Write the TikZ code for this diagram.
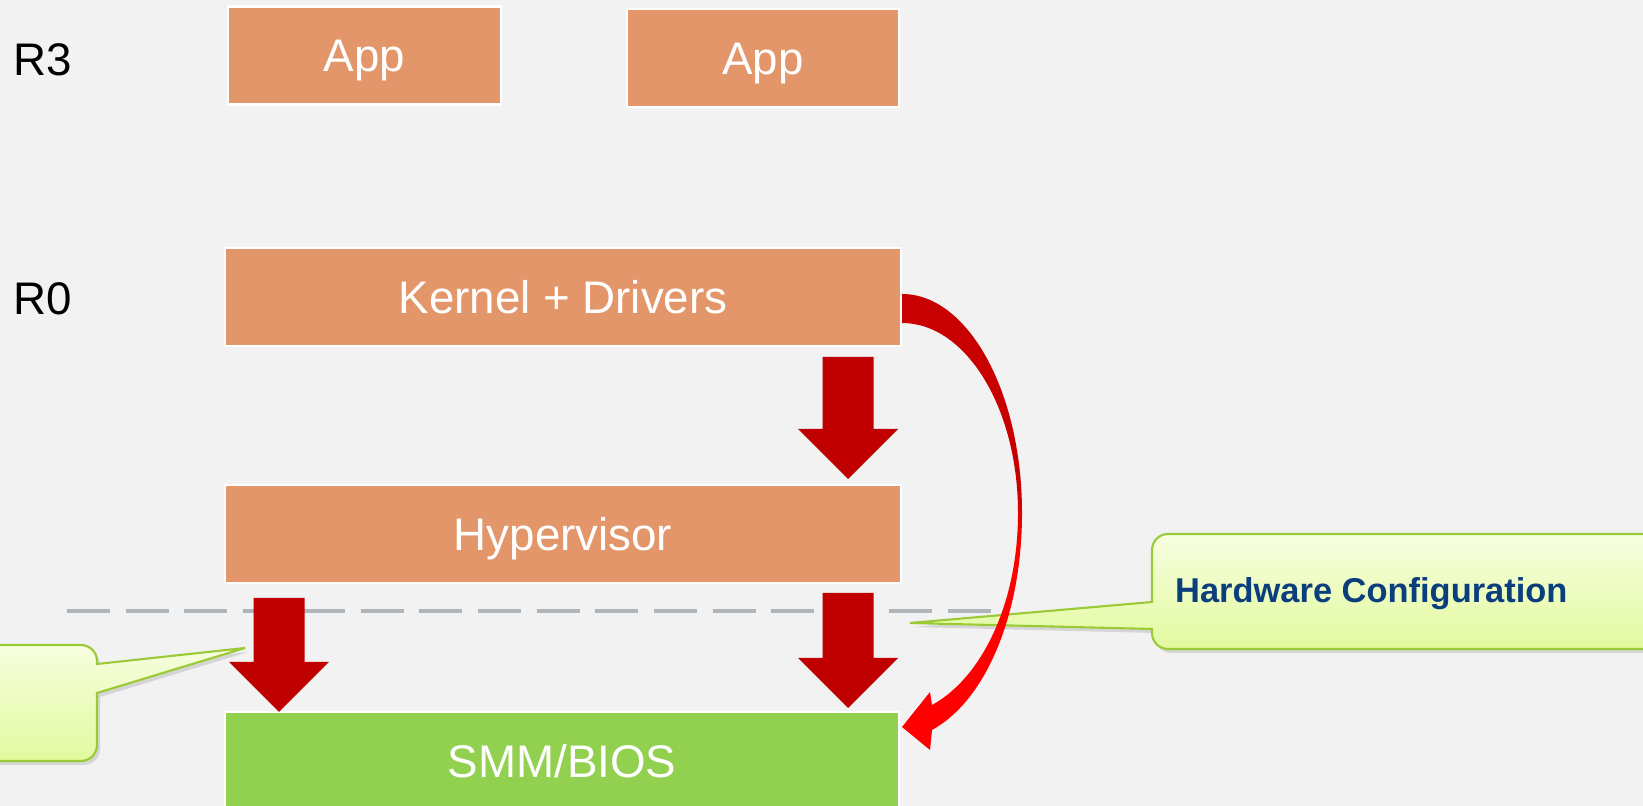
\documentclass[tikz,border=0pt]{standalone}
\usepackage{fontspec}
\setmainfont{Liberation Sans}
\usepackage{xcolor}
\usetikzlibrary{calc, shadows}

\definecolor{bggray}{RGB}{242,242,242}
\definecolor{boxorange}{RGB}{227,150,105}
\definecolor{boxgreen}{RGB}{146,208,80}
\definecolor{arrdark}{RGB}{200,0,0}
\definecolor{arrbright}{RGB}{255,0,0}
\definecolor{blockred}{RGB}{192,0,0}
\definecolor{sepgray}{RGB}{174,182,188}
\definecolor{calltop}{RGB}{247,254,224}
\definecolor{callbot}{RGB}{226,250,158}
\definecolor{callline}{RGB}{155,202,55}
\definecolor{calltext}{RGB}{10,62,125}

% dark red on top, bright red below
\pgfdeclareverticalshading{curvered}{100bp}{color(0bp)=(arrbright); color(47bp)=(arrbright);
  color(54bp)=(arrdark); color(100bp)=(arrdark)}

% block arrow pointing down: #1 = top of the shaft, #2 = tip
\newcommand{\blockdown}[2]{%
  \fill[blockarr] ($(#1)+(-0.255,0)$) -- ($(#1)+(0.255,0)$)
    -- ($(#2)+(0.255,0.5)$) -- ($(#2)+(0.5,0.5)$) -- (#2)
    -- ($(#2)+(-0.5,0.5)$) -- ($(#2)+(-0.255,0.5)$) -- cycle;}

\begin{document}
\begin{tikzpicture}[
  every node/.style={font=\fontsize{13}{15}\selectfont, text height=9.3pt, text depth=0pt},
  layer/.style={draw=white, line width=0.6pt, fill=boxorange, text=white,
    minimum height=0.98cm, inner sep=0pt, outer sep=0pt},
  ringlbl/.style={anchor=west, text=black, inner sep=0pt},
  blockarr/.style={fill=blockred},
  curvearr/.style={shading=curvered},
  callbox/.style={draw=callline, line width=0.6pt, top color=calltop, bottom color=callbot,
    drop shadow={shadow xshift=0.03cm, shadow yshift=-0.04cm, opacity=0.25}},
  calltxt/.style={font=\fontsize{9.8}{12}\selectfont\bfseries, text=calltext,
    text height=7pt, anchor=west, inner sep=0pt},
  sepline/.style={draw=sepgray, line width=1.4pt, dash pattern=on 0.43cm off 0.157cm}]
  \useasboundingbox (0,0) rectangle (16.43,8.06);
  \clip (0,0) rectangle (16.43,8.06);
  \fill[bggray] (0,0) rectangle (16.43,8.06);
  % rings
  \node[ringlbl] (r3) at (0.13,7.47) {R3};
  \node[ringlbl] (r0) at (0.13,5.08) {R0};
  % boundary below the hypervisor
  \draw[sepline] (0.67,1.95) -- (9.92,1.95);
  % layers
  \node[layer, minimum width=2.73cm] (app1) at (3.645,7.505) {App};
  \node[layer, minimum width=2.72cm] (app2) at (7.63,7.48) {App};
  \node[layer, minimum width=6.76cm] (kernel) at (5.63,5.09) {Kernel + Drivers};
  \node[layer, minimum width=6.76cm] (hyper) at (5.63,2.72) {Hypervisor};
  \node[layer, minimum width=6.74cm, fill=boxgreen] (smm) at (5.62,0.45) {SMM/BIOS};
  % block arrows
  \coordinate (kh1) at ([xshift=-0.53cm,yshift=-0.11cm]kernel.south east);
  \coordinate (kh2) at ([xshift=-0.53cm,yshift=0.06cm]hyper.north east);
  \coordinate (hs1) at ([xshift=-0.53cm,yshift=-0.10cm]hyper.south east);
  \coordinate (hs2) at ([xshift=-0.51cm,yshift=0.04cm]smm.north east);
  \coordinate (hl1) at ([xshift=0.54cm,yshift=-0.15cm]hyper.south west);
  \coordinate (hl2) at ([xshift=0.54cm]smm.north west);
  \blockdown{kh1}{kh2}
  \blockdown{hs1}{hs2}
  \blockdown{hl1}{hl2}
  % callouts
  \coordinate (lefttip) at ([xshift=0.20cm,yshift=-0.65cm]hyper.south west);
  \coordinate (hwtip) at ([xshift=0.09cm,yshift=-0.40cm]hyper.south east);
  \path[callbox] (0.97,1.42) -- (lefttip) -- (0.97,1.13) -- (0.97,0.61)
    arc[start angle=0, end angle=-90, radius=0.16] -- (-0.4,0.45) -- (-0.4,1.61)
    -- (0.81,1.61) arc[start angle=90, end angle=0, radius=0.16] -- cycle;
  \path[callbox] (11.52,2.04) -- (hwtip) -- (11.52,1.77) -- (11.52,1.73)
    arc[start angle=180, end angle=270, radius=0.16] -- (16.9,1.57) -- (16.9,2.72)
    -- (11.68,2.72) arc[start angle=90, end angle=180, radius=0.16] -- cycle;
  \node[calltxt] (hwcfg) at (11.745,2.155) {Hardware Configuration};
  % curved arrow kernel -> smm
  \coordinate (cstart) at ([xshift=0.01cm,yshift=0.03cm]kernel.east);
  \coordinate (ctip) at ([xshift=0.03cm,yshift=-0.15cm]smm.north east);
  \path[curvearr] (cstart) .. controls +(0.66,0) and +(0,1.21) .. ++(1.2,-2.19)
    .. controls +(0,-1.03) and +(0.53,0.29) .. ++(-0.90,-2.17)
    -- ++(-0.02,-0.20) -- (ctip) -- ++(0.28,0.35) -- ++(0.02,-0.13)
    .. controls +(0.48,0.26) and +(0,-0.93) .. ++(0.86,1.92)
    .. controls +(0,1.05) and +(0.64,0) .. ++(-1.16,1.90) -- cycle;
\end{tikzpicture}
\end{document}
